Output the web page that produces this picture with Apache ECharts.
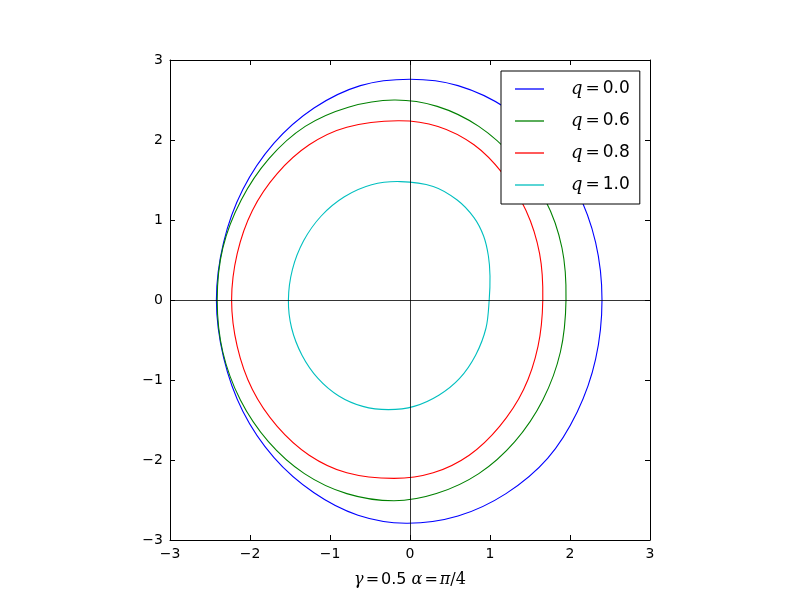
<!DOCTYPE html>
<html>
<head>
<meta charset="utf-8">
<script src="https://cdn.jsdelivr.net/npm/echarts@6/dist/echarts.min.js"></script>
<style>
  html, body { margin: 0; padding: 0; background: #fff; }
  #chart { width: 800px; height: 600px; }
</style>
</head>
<body>
<div id="chart"></div>
<script>
// closed curve points [x, y], traced counter-clockwise from the top
var curveQ00 = [
  [0, 2.76], [-0.62, 2.68], [-1.20, 2.40], [-1.70, 1.96], [-2.09, 1.38], [-2.33, 0.72],
  [-2.42, 0], [-2.33, -0.72], [-2.09, -1.39], [-1.70, -1.97], [-1.20, -2.41], [-0.65, -2.69],
  [-0.05, -2.79], [0.60, -2.70], [1.20, -2.42], [1.72, -1.98], [2.09, -1.40], [2.32, -0.74],
  [2.40, 0], [2.32, 0.72], [2.08, 1.38], [1.69, 1.96], [1.20, 2.40], [0.60, 2.68]
];
var curveQ06 = [
  [-0.2, 2.50], [-0.77, 2.41], [-1.31, 2.17], [-1.76, 1.77], [-2.11, 1.25], [-2.34, 0.65],
  [-2.41, 0], [-2.34, -0.65], [-2.12, -1.25], [-1.77, -1.77], [-1.32, -2.17], [-0.79, -2.42],
  [-0.2, -2.51], [0.33, -2.42], [0.86, -2.17], [1.31, -1.77], [1.66, -1.25], [1.88, -0.65],
  [1.95, 0], [1.90, 0.65], [1.69, 1.25], [1.31, 1.77], [0.86, 2.17], [0.34, 2.42]
];
var curveQ08 = [
  [-0.15, 2.24], [-0.79, 2.16], [-1.26, 1.94], [-1.66, 1.58], [-1.97, 1.12], [-2.16, 0.58],
  [-2.23, 0], [-2.16, -0.58], [-1.97, -1.12], [-1.66, -1.58], [-1.26, -1.94], [-0.79, -2.16],
  [-0.2, -2.23], [0.29, -2.16], [0.74, -1.94], [1.12, -1.58], [1.42, -1.12], [1.60, -0.58],
  [1.66, 0], [1.62, 0.58], [1.45, 1.12], [1.16, 1.58], [0.80, 1.94], [0.35, 2.17]
];
var curveQ10 = [
  [-0.12, 1.48], [-0.48, 1.44], [-0.82, 1.29], [-1.11, 1.05], [-1.33, 0.74], [-1.47, 0.38],
  [-1.52, 0], [-1.48, -0.35], [-1.35, -0.69], [-1.15, -0.98], [-0.89, -1.20], [-0.59, -1.33],
  [-0.27, -1.37], [0.05, -1.33], [0.36, -1.19], [0.62, -0.98], [0.82, -0.69], [0.95, -0.35],
  [0.99, 0], [1.00, 0.30], [0.98, 0.55], [0.92, 0.80], [0.80, 1.03], [0.59, 1.25], [0.29, 1.42]
];
var seriesNames = ["q=0.0", "q=0.6", "q=0.8", "q=1.0"];
var seriesColors = ["#0000ff", "#008000", "#ff0000", "#00bfbf"];
var curves = [curveQ00, curveQ06, curveQ08, curveQ10];

var tickFont = { color: "#000", fontFamily: "DejaVu Sans", fontSize: 14 };
function minusFmt(v) { return String(v).replace("-", "\u2212"); }

// closed catmull-rom path through the curve points, in pixels
function renderCurve(params, api) {
  var pts = curves[params.seriesIndex].map(function (p) { return api.coord(p); });
  var n = pts.length;
  var d = "M" + pts[0][0] + "," + pts[0][1];
  for (var i = 0; i < n; i++) {
    var p0 = pts[(i - 1 + n) % n], p1 = pts[i], p2 = pts[(i + 1) % n], p3 = pts[(i + 2) % n];
    var c1x = p1[0] + (p2[0] - p0[0]) / 6, c1y = p1[1] + (p2[1] - p0[1]) / 6;
    var c2x = p2[0] - (p3[0] - p1[0]) / 6, c2y = p2[1] - (p3[1] - p1[1]) / 6;
    d += "C" + c1x + "," + c1y + " " + c2x + "," + c2y + " " + p2[0] + "," + p2[1];
  }
  d += "Z";
  return {
    type: "path",
    shape: { pathData: d },
    style: { fill: "none", stroke: seriesColors[params.seriesIndex], lineWidth: 1.1 }
  };
}

var chart = echarts.init(document.getElementById("chart"));

var series = curves.map(function (pts, i) {
  return {
    name: seriesNames[i],
    type: "custom",
    coordinateSystem: "cartesian2d",
    renderItem: renderCurve,
    data: [pts[0]],
    itemStyle: { color: seriesColors[i] },
    silent: true,
    clip: true,
    animation: false
  };
});
// zero lines (axhline / axvline)
series[0].markLine = {
  silent: true,
  symbol: "none",
  label: { show: false },
  lineStyle: { color: "#000", width: 0.8, type: "solid" },
  data: [{ xAxis: 0 }, { yAxis: 0 }],
  animation: false
};

function valueAxis(extra) {
  return Object.assign({
    type: "value",
    min: -3,
    max: 3,
    interval: 1,
    splitLine: { show: false },
    axisLine: { show: true, onZero: false, lineStyle: { color: "#000", width: 1 } },
    axisTick: { show: true, inside: true, length: 5, lineStyle: { color: "#000" } }
  }, extra);
}

chart.setOption({
  animation: false,
  backgroundColor: "#fff",
  grid: { left: 170, right: 150, top: 60, bottom: 60 },
  legend: {
    orient: "vertical",
    left: 501,
    top: 71,
    padding: [8, 10, 9, 14],
    icon: "rect",
    itemWidth: 29,
    itemHeight: 1.3,
    itemGap: 12,
    backgroundColor: "#fff",
    borderColor: "#000",
    borderWidth: 1,
    borderRadius: 0,
    data: seriesNames,
    formatter: function (name) {
      return "{i|q}{e|=}{n|" + name.slice(2) + "}";
    },
    textStyle: {
      color: "#000",
      lineHeight: 20,
      rich: {
        i: { fontFamily: "DejaVu Serif", fontStyle: "italic", fontSize: 18, padding: [0, 0, 0, 22], lineHeight: 20 },
        e: { fontFamily: "DejaVu Serif", fontSize: 17, padding: [0, 3, 0, 3], lineHeight: 20 },
        n: { fontFamily: "DejaVu Sans", fontSize: 17, lineHeight: 20 }
      }
    }
  },
  xAxis: [
    valueAxis({
      position: "bottom",
      axisLabel: Object.assign({ margin: 7, formatter: minusFmt }, tickFont),
      name: "{i|\u03b3}{e|=}{n|0.5 }{i|\u03b1}{e|=}{i|\u03c0}{s|/4}",
      nameLocation: "middle",
      nameGap: 32,
      nameTextStyle: {
        color: "#000",
        rich: {
          i: { fontFamily: "DejaVu Serif", fontStyle: "italic", fontSize: 16 },
          e: { fontFamily: "DejaVu Serif", fontSize: 16, padding: [0, 2, 0, 2] },
          s: { fontFamily: "DejaVu Serif", fontSize: 16 },
          n: { fontFamily: "DejaVu Sans", fontSize: 16 }
        }
      }
    }),
    valueAxis({ position: "top", axisLabel: { show: false } })
  ],
  yAxis: [
    valueAxis({
      position: "left",
      axisLabel: Object.assign({ margin: 7, formatter: minusFmt }, tickFont)
    }),
    valueAxis({ position: "right", axisLabel: { show: false } })
  ],
  series: series
});
</script>
</body>
</html>
